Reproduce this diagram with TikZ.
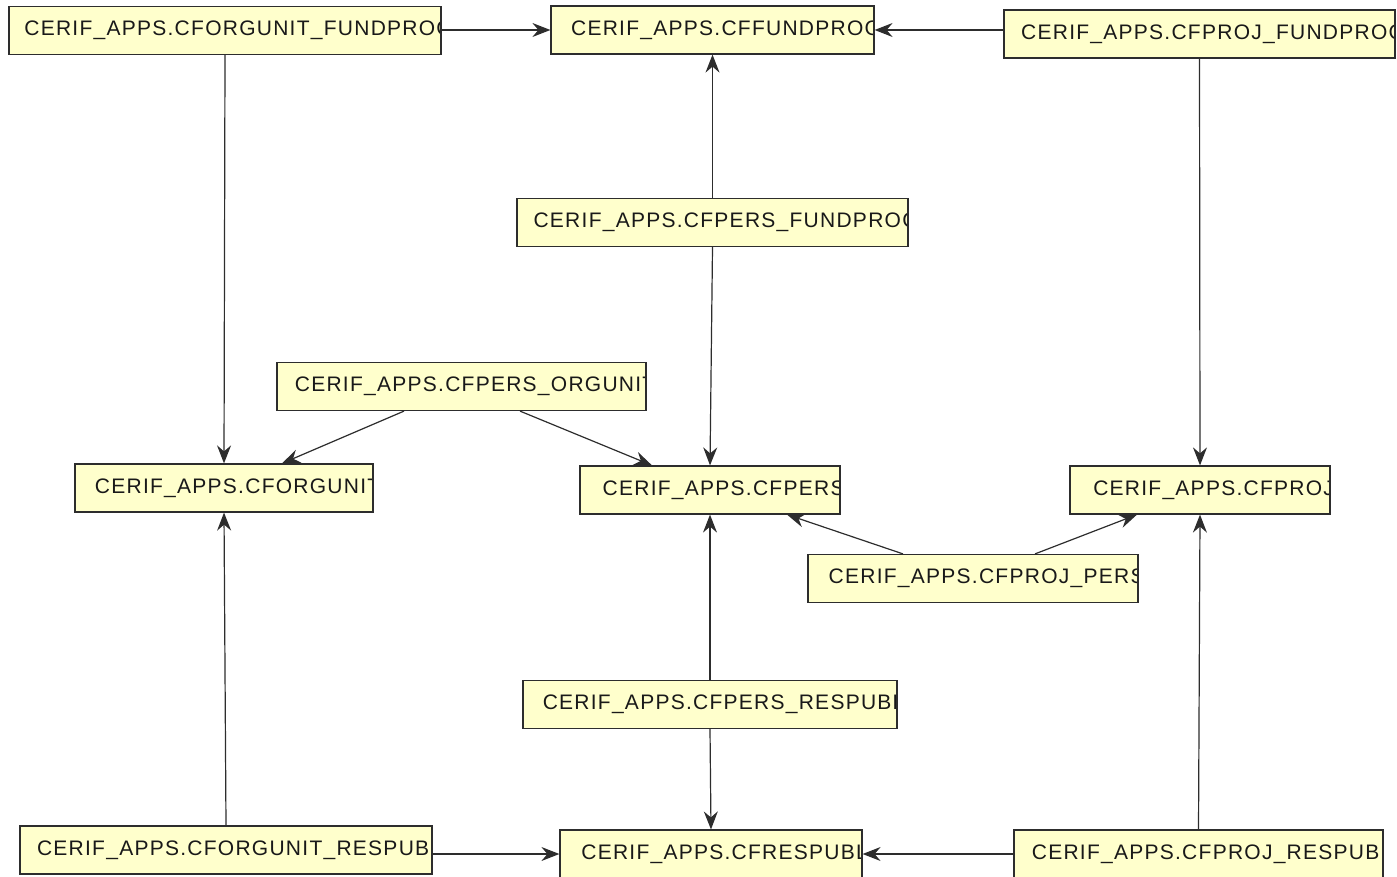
\documentclass[tikz,border=0pt]{standalone}
\usepackage{fontspec}
\usetikzlibrary{arrows.meta}
\newfontfamily\tblfont[LetterSpace=6]{Liberation Sans}
\definecolor{tblfill}{RGB}{255,255,204}
\definecolor{tblline}{RGB}{45,45,45}
\definecolor{tbltext}{RGB}{25,25,25}
\tikzset{
    tbl/.style={draw=tblline, fill=tblfill, line width=1.2pt, rectangle, inner sep=0pt,
        minimum height=48pt,
        path picture={\node[anchor=west, inner sep=0pt, text=tbltext,
            font=\tblfont\fontsize{21}{24}\selectfont]
            at ([xshift=13pt]path picture bounding box.west) {#1};}},
    link/.style={draw=tblline, line width=1.2pt,
        -{Stealth[length=18pt, width=14pt, inset=6pt]}}
}
\begin{document}
\begin{tikzpicture}[x=1pt, y=-1pt]
    \useasboundingbox (0, 0) rectangle (1397, 877);

    % top row
    \node[tbl={CERIF\_APPS.CFORGUNIT\_FUNDPROG}, minimum width=432pt] (ofp) at (225, 30.5) {};
    \node[tbl={CERIF\_APPS.CFFUNDPROG}, minimum width=323pt] (fp) at (712.5, 30) {};
    \node[tbl={CERIF\_APPS.CFPROJ\_FUNDPROG}, minimum width=391pt] (pjfp) at (1199.5, 34) {};

    \node[tbl={CERIF\_APPS.CFPERS\_FUNDPROG}, minimum width=391pt] (pfp) at (712.5, 222.5) {};
    \node[tbl={CERIF\_APPS.CFPERS\_ORGUNIT}, minimum width=369pt] (por) at (461.5, 386.5) {};

    % middle row
    \node[tbl={CERIF\_APPS.CFORGUNIT}, minimum width=298pt] (org) at (224, 488) {};
    \node[tbl={CERIF\_APPS.CFPERS}, minimum width=260pt] (pers) at (710, 490) {};
    \node[tbl={CERIF\_APPS.CFPROJ}, minimum width=260pt] (proj) at (1200, 490) {};

    \node[tbl={CERIF\_APPS.CFPROJ\_PERS}, minimum width=330pt] (pjp) at (973, 578.5) {};
    \node[tbl={CERIF\_APPS.CFPERS\_RESPUBL}, minimum width=374pt] (prp) at (710, 704.5) {};

    % bottom row
    \node[tbl={CERIF\_APPS.CFORGUNIT\_RESPUBL}, minimum width=412pt] (orp) at (226, 850) {};
    \node[tbl={CERIF\_APPS.CFRESPUBL}, minimum width=302pt] (rp) at (711, 854) {};
    \node[tbl={CERIF\_APPS.CFPROJ\_RESPUBL}, minimum width=369pt] (pjrp) at (1198.5, 854) {};

    % links to CFFUNDPROG
    \draw[link] (ofp.east |- fp.west) -- (fp.west);
    \draw[link] (fp.east -| pjfp.west) -- (fp.east);
    \draw[link] (pfp.north) -- (fp.south);

    % links to CFORGUNIT, CFPERS, CFPROJ
    \draw[link] (ofp.south) -- (org.north);
    \draw[link] (pjfp.south) -- (proj.north);
    \draw[link] (pfp.south) -- (pers.north);
    \draw[link] ([xshift=-57.5pt]por.south) -- ([xshift=58pt]org.north);
    \draw[link] ([xshift=58.5pt]por.south) -- ([xshift=-58pt]pers.north);
    \draw[link] ([xshift=-70pt]pjp.north) -- ([xshift=77pt]pers.south);
    \draw[link] ([xshift=62pt]pjp.north) -- ([xshift=-63pt]proj.south);
    \draw[link] (prp.north) -- (pers.south);
    \draw[link] (orp.north) -- (org.south);
    \draw[link] (pjrp.north) -- (proj.south);

    % links to CFRESPUBL
    \draw[link] (prp.south) -- (rp.north);
    \draw[link] (rp.west -| orp.east) -- (rp.west);
    \draw[link] (pjrp.west) -- (rp.east);
\end{tikzpicture}
\end{document}
